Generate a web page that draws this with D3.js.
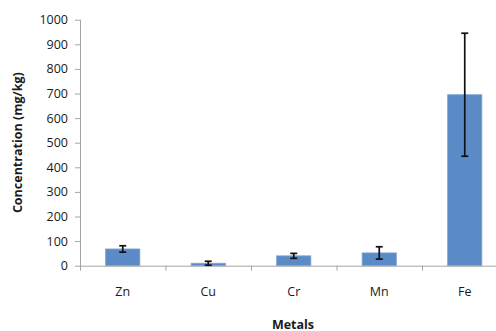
<!DOCTYPE html>
<html>
<head>
<meta charset="utf-8">
<script src="https://cdn.jsdelivr.net/npm/d3@7"></script>
<style>
  html, body { margin: 0; padding: 0; background: #fff; }
  svg { display: block; }
  text { font-family: "Open Sans", "Liberation Sans", sans-serif; fill: #1a1a1a; }
</style>
</head>
<body>
<svg id="chart" width="496" height="331"></svg>
<script>
// Metal concentrations (mean and error) in mg/kg
const metals = ["Zn", "Cu", "Cr", "Mn", "Fe"];
const concentration = [68, 10, 40, 52, 695];
const errorValue = [13, 8, 10, 25, 250];
const yTicks = [0, 100, 200, 300, 400, 500, 600, 700, 800, 900, 1000];

const svg = d3.select("#chart");
const W = 496;

const plotLeft = 80, plotTop = 19.7, plotBottom = 265.7;
const step = 85.5;

const x = d3.scaleBand()
  .domain(metals)
  .range([plotLeft, plotLeft + step * metals.length])
  .padding(0);

const y = d3.scaleLinear()
  .domain([0, 1000])
  .range([plotBottom, plotTop]);

// Y axis
const yAxis = svg.append("g")
  .attr("transform", `translate(${plotLeft},0)`)
  .call(d3.axisLeft(y).tickValues(yTicks).tickFormat(d3.format("d"))
    .tickSize(5).tickSizeOuter(0).tickPadding(7));
yAxis.select(".domain").attr("stroke", "#a6a6a6").attr("d", `M0.5,${plotTop}V${plotBottom + 5}`);
yAxis.selectAll(".tick line").attr("stroke", "#a6a6a6");
yAxis.selectAll(".tick text").attr("font-size", "12.5px").attr("fill", "#1a1a1a");

// Bars
const bw = x.bandwidth() * 0.4;
svg.append("g").selectAll("rect")
  .data(metals)
  .join("rect")
  .attr("x", (d) => x(d) + (x.bandwidth() - bw) / 2)
  .attr("width", bw)
  .attr("y", (d, i) => y(concentration[i]))
  .attr("height", (d, i) => y(0) - y(concentration[i]))
  .attr("fill", "#5b8bc6")
  .attr("stroke", "#7ca2d4")
  .attr("stroke-width", 0.8);

// X axis line with ticks at category boundaries
const xAxis = svg.append("g")
  .attr("transform", `translate(0,${plotBottom})`)
  .call(d3.axisBottom(x).tickSize(0).tickPadding(21));
xAxis.select(".domain").attr("stroke", "#a6a6a6").attr("d", `M${plotLeft},0.5H${W}`);
xAxis.selectAll(".tick text").attr("font-size", "12.5px").attr("fill", "#1a1a1a");
svg.append("g").selectAll("line")
  .data(metals.slice(1))
  .join("line")
  .attr("x1", (d) => x(d) + 0.5)
  .attr("x2", (d) => x(d) + 0.5)
  .attr("y1", plotBottom)
  .attr("y2", plotBottom + 5)
  .attr("stroke", "#a6a6a6");

// Error bars
const cap = 3.5;
const eb = svg.append("g").attr("stroke", "#111").attr("stroke-width", 1.7);
metals.forEach((m, i) => {
  const cx = x(m) + x.bandwidth() / 2;
  const hi = y(concentration[i] + errorValue[i]);
  const lo = y(Math.max(0, concentration[i] - errorValue[i]));
  eb.append("line").attr("x1", cx).attr("x2", cx).attr("y1", hi).attr("y2", lo);
  eb.append("line").attr("x1", cx - cap).attr("x2", cx + cap).attr("y1", hi).attr("y2", hi);
  eb.append("line").attr("x1", cx - cap).attr("x2", cx + cap).attr("y1", lo).attr("y2", lo);
});

// Axis titles
svg.append("text")
  .attr("transform", `translate(17,${(plotTop + plotBottom) / 2}) rotate(-90)`)
  .attr("text-anchor", "middle")
  .attr("dominant-baseline", "central")
  .attr("font-size", "12.5px")
  .attr("font-weight", "bold")
  .text("Concentration (mg/kg)");

svg.append("text")
  .attr("x", 293)
  .attr("y", 324)
  .attr("text-anchor", "middle")
  .attr("dominant-baseline", "central")
  .attr("font-size", "12.5px")
  .attr("font-weight", "bold")
  .text("Metals");
</script>
</body>
</html>
